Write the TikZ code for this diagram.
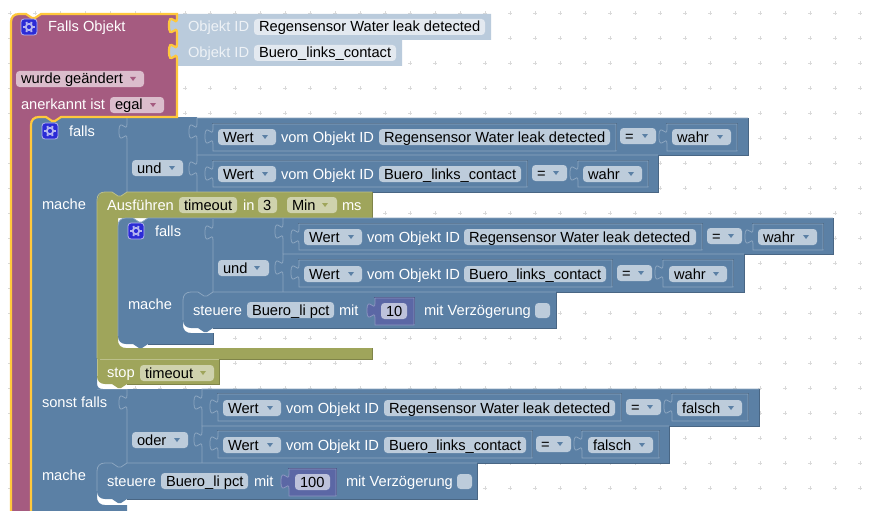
\documentclass[tikz,border=0pt]{standalone}
\usepackage{fontspec}
\setmainfont{Liberation Sans}
\definecolor{bgdot}{HTML}{D9D9D9}
\definecolor{purp}{HTML}{A55B80}
\definecolor{purpf}{HTML}{DBBDCC}
\definecolor{yel}{HTML}{FFC83C}
\definecolor{blu}{HTML}{5B80A5}
\definecolor{bluf}{HTML}{BDCCDB}
\definecolor{blul}{HTML}{8CA6C0}
\definecolor{blud}{HTML}{496684}
\definecolor{oli}{HTML}{9FA55B}
\definecolor{olif}{HTML}{CFD2AD}
\definecolor{olil}{HTML}{BCC08B}
\definecolor{olid}{HTML}{7F8449}
\definecolor{pale}{HTML}{BACBDC}
\definecolor{palet}{HTML}{EEF2F6}
\definecolor{palef}{HTML}{E3E9F0}
\definecolor{numb}{HTML}{5B67A5}
\definecolor{numf}{HTML}{BDC2DB}
\definecolor{numl}{HTML}{8C95C0}
\definecolor{numd}{HTML}{495284}
\definecolor{gearb}{HTML}{2B2BD6}
\definecolor{gearl}{HTML}{B5B5F0}
\newcount\nn
\def\tabd#1#2{-- (#1,#2) .. controls (#1,#2+10) and (#1-8,#2-8) .. (#1-8,#2+7.5) .. controls (#1-8,#2+23) and (#1,#2+5) .. (#1,#2+15)}
\def\tabu#1#2{-- (#1,#2+15) .. controls (#1,#2+5) and (#1-8,#2+23) .. (#1-8,#2+7.5) .. controls (#1-8,#2-8) and (#1,#2+10) .. (#1,#2)}
% text label: colour, x, baseline, text
\newcommand\lbl[4][white]{\global\advance\nn by 1 \node[txt,text=#1] (t\the\nn) at (#2,#3) {#4};}
% field: x1,x2,yc,text,fill
\newcommand\fld[5]{\fill[#5,rounded corners=3.5] (#1,#3-8) rectangle (#2,#3+8); \lbl[black]{#1+5}{#3+5}{#4}}
% dropdown arrow: x,yc,colour
\newcommand\arr[3]{\fill[#3] (#1-3,#2-2) -- (#1+3,#2-2) -- (#1,#2+2) -- cycle;}
% inner value block with left tab: x1,y1,x2,y2,fill,light,dark
\newcommand\vb[7]{%
  \fill[#5] (#1,#2) -- (#3,#2) -- (#3,#4) -- (#1,#4) \tabu{#1}{#2+5} -- cycle;
  \draw[#7,line width=.7] (#1-.7,#2-.7) -- (#3+.7,#2-.7) -- (#3+.7,#4-.7);
  \draw[#6,line width=.8] (#1,#2) -- (#3,#2) -- (#3,#4) -- (#1,#4) \tabu{#1}{#2+5} -- cycle;}
\newcommand\bvb[4]{\vb{#1}{#2}{#3}{#4}{blu}{blul}{blud}}
% outer row block: light top and left with tab, dark right and bottom
\newcommand\rw[4]{%
  \fill[blu] (#1,#2) -- (#3,#2) -- (#3,#4) -- (#1,#4) -- cycle;
  \draw[blul,line width=.8] (#1,#4) \tabu{#1}{#2+6} -- (#1,#2) -- (#3,#2);
  \draw[blud,line width=1] (#3,#2) -- (#3,#4) -- (#1,#4);}
% gear: x,y (top left)
\newcommand\gear[2]{%
  \fill[gearb,rounded corners=3] (#1,#2) rectangle (#1+16,#2+16);
  \draw[gearl,line width=.8,rounded corners=3] (#1,#2) rectangle (#1+16,#2+16);
  \draw[gearl,line width=1.8] (#1+8,#2+8) circle (3.2);
  \foreach \a in {0,60,120,180,240,300} \draw[gearl,line width=2] (#1+8,#2+8) ++(\a:3.8) -- ++(\a:1.8);}
% statement "steuere": x1,x2,y1,y2
\newcommand\stm[4]{%
  \fill[blu] (#1,#3+8) .. controls (#1,#3+3) and (#1+3,#3) .. (#1+8,#3) -- (#1+15,#3) -- (#1+21,#3+4) -- (#1+24,#3+4) -- (#1+30,#3) -- (#2,#3) -- (#2,#4) -- (#1+30,#4) -- (#1+24,#4+4) -- (#1+21,#4+4) -- (#1+15,#4) -- (#1+8,#4) .. controls (#1+3,#4) and (#1,#4-3) .. (#1,#4-8) -- cycle;
  \draw[blul,line width=.8] (#1,#4-8) -- (#1,#3+8) .. controls (#1,#3+3) and (#1+3,#3) .. (#1+8,#3) -- (#1+15,#3) -- (#1+21,#3+4) -- (#1+24,#3+4) -- (#1+30,#3) -- (#2,#3);
  \draw[blud,line width=1] (#2,#3) -- (#2,#4) -- (#1+30,#4);}
\tikzset{txt/.style={anchor=base west,inner sep=0pt,outer sep=0pt,font=\fontsize{14.67}{16}\selectfont}}
\begin{document}
\begin{tikzpicture}[x=1pt,y=-1pt]
\useasboundingbox (0,0) rectangle (870,511);
\clip (0,0) rectangle (870,511);
\fill[white] (0,0) rectangle (870,511);
% grid
\foreach \x in {10,35,...,860} \foreach \y in {13,38,...,511}
  \draw[bgdot,line width=.8] (\x-1.6,\y) -- (\x+1.6,\y) (\x,\y-1.6) -- (\x,\y+1.6);
% Objekt ID shadow blocks
\fill[pale] (170,14) -- (491,14) -- (491,40) -- (402,40) -- (402,66) -- (170,66) -- cycle;
% blue main block
\fill[blu] (31,117) -- (197,117) -- (197,192) -- (130,192) -- (130,205) -- (97,205) -- (97,389) -- (202,389) -- (202,463) -- (130,463) -- (130,475) -- (97,475) -- (97,497) .. controls (97,502) and (100,505) .. (105,505) -- (127,505) -- (127,511) -- (31,511) -- cycle;
\fill[white] (97,381) -- (97,389) -- (127,389) -- (127,385) -- (105,385) -- cycle;
\fill[blu] (97,381) -- (97,383) .. controls (97,387) and (99,389) .. (103,389) -- (97,389) -- cycle;
% purple hat with yellow outline
\path[fill=purp] (11,511) -- (11,22) .. controls (11,17) and (14,14) .. (19,14) -- (26,14) -- (32,18) -- (35,18) -- (41,14) -- (177,14) \tabd{177}{18} \tabd{177}{44} -- (177,117) -- (61,117) -- (55,121) -- (52,121) -- (46,117) -- (39,117) .. controls (34,117) and (31,120) .. (31,125) -- (31,511) -- cycle;
\draw[yel,line width=2.2] (11,511) -- (11,22) .. controls (11,17) and (14,14) .. (19,14) -- (26,14) -- (32,18) -- (35,18) -- (41,14) -- (177,14) \tabd{177}{18} \tabd{177}{44} -- (177,117) -- (61,117) -- (55,121) -- (52,121) -- (46,117) -- (39,117) .. controls (34,117) and (31,120) .. (31,125) -- (31,511);
\gear{21}{19}
\lbl{48}{32}{Falls Objekt}
\lbl[palet]{188}{32}{Objekt ID}
\fld{254}{485}{27}{Regensensor Water leak detected}{palef}
\lbl[palet]{188}{58}{Objekt ID}
\fld{254}{396}{53}{Buero\_links\_contact}{palef}
\fld{16}{144}{79}{wurde geändert}{purpf}
\arr{133}{79}{purp}
\lbl{21}{110}{anerkannt ist}
\fld{110}{164}{105}{egal}{purpf}
\arr{153}{105}{purp}
% falls head
\gear{42}{123}
\lbl{69}{136}{falls}
\lbl{42}{209}{mache}
\lbl{42}{407}{sonst falls}
\lbl{42}{480}{mache}
\draw[blul,line width=.8] (127,118) \tabd{127}{124} -- (127,192);
\draw[blul,line width=.8] (127,389) \tabd{127}{395} -- (127,463);
\fld{132}{183}{168}{und}{bluf}
\arr{172}{168}{blu}
\fld{132}{188}{440}{oder}{bluf}
\arr{177}{440}{blu}
% row A
\rw{197}{118}{748}{155}
\rw{197}{155}{658}{192}
\bvb{213}{124}{616}{151}
\bvb{667}{124}{737}{151}
\fld{218}{276}{137}{Wert}{bluf}\arr{265}{137}{blu}
\lbl{281}{142}{vom Objekt ID}
\fld{379}{610}{137}{Regensensor Water leak detected}{bluf}
\fld{620}{656}{136}{=}{bluf}\arr{645}{136}{blu}
\fld{672}{731}{137}{wahr}{bluf}\arr{720}{137}{blu}
% row B
\bvb{213}{161}{527}{187}
\bvb{578}{161}{648}{187}
\fld{218}{276}{174}{Wert}{bluf}\arr{265}{174}{blu}
\lbl{281}{179}{vom Objekt ID}
\fld{379}{521}{174}{Buero\_links\_contact}{bluf}
\fld{532}{567}{173}{=}{bluf}\arr{556}{173}{blu}
\fld{583}{642}{174}{wahr}{bluf}\arr{631}{174}{blu}
% olive
\fill[oli] (97,205) .. controls (97,197) and (100,192) .. (105,192) -- (112,192) -- (118,196) -- (121,196) -- (127,192) -- (372,192) -- (372,218) -- (118,218) -- (118,340) .. controls (118,345) and (121,348) .. (126,348) -- (372,348) -- (372,359) -- (97,359) -- cycle;
\draw[olil,line width=.8] (97,358) -- (97,200) .. controls (97,195) and (100,192) .. (105,192) -- (112,192) -- (118,196) -- (121,196) -- (127,192) -- (372,192);
\draw[olid,line width=1] (372,192) -- (372,218) (372,348) -- (372,359) -- (219,359);
\fill[oli] (97,358) -- (219,358) -- (219,384) -- (127,384) -- (121,388) -- (118,388) -- (112,384) -- (105,384) .. controls (100,384) and (97,381) .. (97,376) -- cycle;
\draw[olil,line width=.8] (97,376) -- (97,359) (100,359) -- (219,359);
\draw[olid,line width=1] (219,359) -- (219,384) -- (127,384);
\lbl{107}{210}{Ausführen}
\fld{179}{237}{205}{timeout}{olif}
\lbl{243}{210}{in}
\fld{258}{277}{205}{3}{olif}
\fld{287}{337}{205}{Min}{olif}\arr{325}{205}{oli}
\lbl{342}{210}{ms}
\lbl{107}{377}{stop}
\fld{140}{214}{373}{timeout}{olif}\arr{203}{373}{oli}
% inner falls
\fill[blu] (118,226) .. controls (118,221) and (121,218) .. (126,218) -- (133,218) -- (139,222) -- (142,222) -- (148,218) -- (283,218) -- (283,292) -- (216,292) -- (216,304) -- (183,304) -- (183,325) .. controls (183,330) and (186,333) .. (191,333) -- (213,333) -- (213,344) -- (148,344) -- (142,348) -- (139,348) -- (133,344) -- (126,344) .. controls (121,344) and (118,341) .. (118,336) -- cycle;
\draw[blul,line width=.8] (118,336) -- (118,226) .. controls (118,221) and (121,218) .. (126,218) -- (133,218) -- (139,222) -- (142,222) -- (148,218) -- (283,218);
\draw[blud,line width=.8] (213,333) -- (213,344) -- (148,344);
\draw[blul,line width=.8] (213,219) \tabd{213}{225} -- (213,292);
\gear{128}{223}
\lbl{155}{236}{falls}
\lbl{128}{309}{mache}
\fld{218}{269}{268}{und}{bluf}\arr{257}{268}{blu}
% row C
\rw{283}{218}{833}{254}
\rw{283}{254}{744}{292}
\bvb{299}{224}{702}{250}
\bvb{753}{224}{823}{250}
\fld{304}{362}{237}{Wert}{bluf}\arr{351}{237}{blu}
\lbl{367}{242}{vom Objekt ID}
\fld{464}{696}{237}{Regensensor Water leak detected}{bluf}
\fld{707}{742}{236}{=}{bluf}\arr{731}{236}{blu}
\fld{758}{817}{237}{wahr}{bluf}\arr{806}{237}{blu}
% row D
\bvb{299}{260}{612}{287}
\bvb{663}{260}{733}{287}
\fld{304}{362}{274}{Wert}{bluf}\arr{351}{274}{blu}
\lbl{367}{279}{vom Objekt ID}
\fld{464}{606}{274}{Buero\_links\_contact}{bluf}
\fld{617}{652}{273}{=}{bluf}\arr{641}{273}{blu}
\fld{669}{727}{274}{wahr}{bluf}\arr{716}{274}{blu}
% steuere 1
\stm{183}{556}{292}{328}
\lbl{193}{315}{steuere}
\fld{247}{334}{310}{Buero\_li pct}{bluf}
\lbl{339}{315}{mit}
\vb{375}{298}{414}{325}{numb}{numl}{numd}
\fld{381}{407}{311}{10}{numf}
\lbl{424}{315}{mit Verzögerung}
\fill[bluf,rounded corners=3.5] (535,303) rectangle (550,318);
% rows E and F
\rw{202}{389}{759}{426}
\rw{202}{426}{669}{463}
\bvb{218}{394}{621}{421}
\bvb{672}{394}{748}{421}
\fld{223}{281}{408}{Wert}{bluf}\arr{270}{408}{blu}
\lbl{286}{413}{vom Objekt ID}
\fld{384}{615}{408}{Regensensor Water leak detected}{bluf}
\fld{626}{661}{407}{=}{bluf}\arr{650}{407}{blu}
\fld{677}{742}{408}{falsch}{bluf}\arr{731}{408}{blu}
\bvb{218}{431}{532}{458}
\bvb{582}{431}{659}{458}
\fld{223}{281}{445}{Wert}{bluf}\arr{270}{445}{blu}
\lbl{286}{450}{vom Objekt ID}
\fld{384}{526}{445}{Buero\_links\_contact}{bluf}
\fld{536}{571}{444}{=}{bluf}\arr{560}{444}{blu}
\fld{588}{653}{445}{falsch}{bluf}\arr{642}{445}{blu}
% steuere 2
\stm{97}{477}{463}{499}
\lbl{107}{486}{steuere}
\fld{161}{248}{481}{Buero\_li pct}{bluf}
\lbl{254}{486}{mit}
\vb{289}{469}{336}{496}{numb}{numl}{numd}
\fld{295}{330}{482}{100}{numf}
\lbl{346}{486}{mit Verzögerung}
\fill[bluf,rounded corners=3.5] (457,474) rectangle (472,489);
\end{tikzpicture}
\end{document}
